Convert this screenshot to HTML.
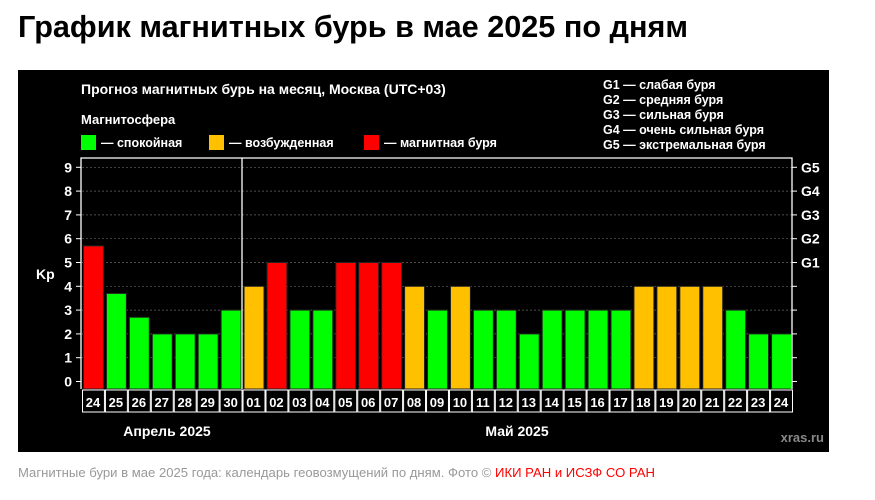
<!DOCTYPE html>
<html><head><meta charset="utf-8"><style>html,body{margin:0;padding:0;background:#fff;width:875px;height:500px;overflow:hidden}</style></head><body>
<svg width="875" height="500" viewBox="0 0 875 500" xmlns="http://www.w3.org/2000/svg" font-family="Liberation Sans, DejaVu Sans, sans-serif">
<text x="18" y="37" font-size="31" font-weight="bold" fill="#000" textLength="670" lengthAdjust="spacingAndGlyphs">График магнитных бурь в мае 2025 по дням</text>
<rect x="18" y="70" width="811" height="382" fill="#000"/>
<g fill="#fff" font-weight="bold">
<text x="81" y="94" font-size="14">Прогноз магнитных бурь на месяц, Москва (UTC+03)</text>
<text x="81" y="124" font-size="13">Магнитосфера</text>
<rect x="81" y="135" width="15" height="15" fill="#00ff00"/><text x="101" y="147" font-size="12.5">— спокойная</text>
<rect x="209" y="135" width="15" height="15" fill="#ffc000"/><text x="229" y="147" font-size="12.5">— возбужденная</text>
<rect x="364" y="135" width="15" height="15" fill="#ff0000"/><text x="384" y="147" font-size="12.5">— магнитная буря</text>
<g font-size="12.5"><text x="603" y="89">G1 — слабая буря</text><text x="603" y="104">G2 — средняя буря</text><text x="603" y="119">G3 — сильная буря</text><text x="603" y="134">G4 — очень сильная буря</text><text x="603" y="149">G5 — экстремальная буря</text></g>
</g>
<g id="grid" stroke="#666" stroke-dasharray="2,2" stroke-width="0.7">
<line x1="82" x2="792" y1="167.3" y2="167.3"/><line x1="82" x2="792" y1="191.1" y2="191.1"/><line x1="82" x2="792" y1="214.9" y2="214.9"/><line x1="82" x2="792" y1="238.7" y2="238.7"/><line x1="82" x2="792" y1="262.5" y2="262.5"/><line x1="82" x2="792" y1="286.3" y2="286.3"/><line x1="82" x2="792" y1="310.1" y2="310.1"/><line x1="82" x2="792" y1="333.9" y2="333.9"/><line x1="82" x2="792" y1="357.7" y2="357.7"/>
</g>
<g id="bars" stroke="#222" stroke-width="1"></g>
<g fill="none" stroke="#fff" stroke-width="1.3">
<polyline points="81,389 81,158 792,158 792,389"/>
<line x1="242" y1="158" x2="242" y2="389"/>
</g>
<g id="axes" stroke="#fff" stroke-width="1"></g>
<g id="labels" fill="#fff" font-weight="bold"></g>
<g fill="#fff" font-weight="bold" font-size="14">
<text x="36" y="279">Kp</text>
<text x="167" y="436" text-anchor="middle">Апрель 2025</text>
<text x="517" y="436" text-anchor="middle">Май 2025</text>
</g>
<text x="824" y="442" text-anchor="end" fill="#888" font-weight="bold" font-size="13">xras.ru</text>
<text x="18" y="477" font-size="13" fill="#999" textLength="637" lengthAdjust="spacingAndGlyphs">Магнитные бури в мае 2025 года: календарь геовозмущений по дням. Фото © <tspan fill="#ff0000">ИКИ РАН и ИСЗФ СО РАН</tspan></text>
</svg>
<script>
var ns="http://www.w3.org/2000/svg";
function el(p,t,a,txt){var e=document.createElementNS(ns,t);for(var k in a)e.setAttribute(k,a[k]);if(txt!=null)e.textContent=txt;document.getElementById(p).appendChild(e);}
var v=[5.7,3.7,2.7,2,2,2,3,4,5,3,3,5,5,5,4,3,4,3,3,2,3,3,3,3,4,4,4,4,3,2,2];
var d=["24","25","26","27","28","29","30","01","02","03","04","05","06","07","08","09","10","11","12","13","14","15","16","17","18","19","20","21","22","23","24"];
var y0=381.5,u=23.8,x0=81,w=(792-81)/31;
for(var i=0;i<31;i++){var c=v[i]>=5?"#ff0000":(v[i]>=4?"#ffc000":"#00ff00");
var x=x0+i*w;el("bars","rect",{x:x+2.5,y:y0-v[i]*u,width:w-3,height:389-(y0-v[i]*u),fill:c});
el("axes","rect",{x:x+1.5,y:390,width:w-1,height:22,fill:"none"});
el("labels","text",{x:x+w/2+0.5,y:407,"text-anchor":"middle","font-size":"13"},d[i]);}
for(var k=0;k<=9;k++){var y=y0-k*u;el("axes","line",{x1:76,x2:81,y1:y,y2:y});el("axes","line",{x1:792,x2:797,y1:y,y2:y});
el("labels","text",{x:72,y:y+5,"text-anchor":"end","font-size":"14"},String(k));
if(k>=5)el("labels","text",{x:801,y:y+5,"font-size":"14"},"G"+(k-4));}
</script>
</body></html>
